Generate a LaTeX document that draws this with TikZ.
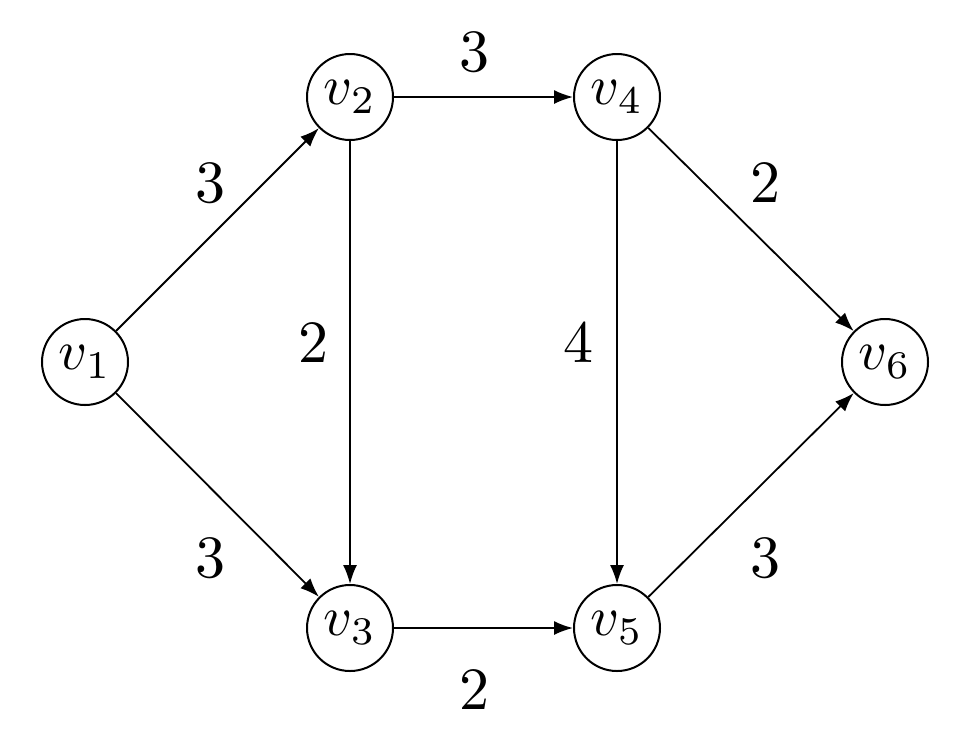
\documentclass[tikz,border=0pt]{standalone}
\usepackage{graphicx}
\usetikzlibrary{arrows.meta}
\newcommand{\vlab}[1]{\scalebox{5.6}{$#1$}}
\newcommand{\wlab}[1]{\scalebox{6.0}{$#1$}}
\begin{document}
\begin{tikzpicture}[x=1pt,y=-1pt,
  vert/.style={circle,draw,line width=2pt,minimum size=86pt,inner sep=0pt},
  wt/.style={inner sep=0pt},
  edge/.style={line width=1.8pt,-{Latex[length=19pt,width=14pt]}}]
\useasboundingbox[fill=white] (0,0) rectangle (968,740);
\node[vert] (v1) at (85,362) {\vlab{v_1}};
\node[vert] (v2) at (350,97) {\vlab{v_2}};
\node[vert] (v3) at (350,628) {\vlab{v_3}};
\node[vert] (v4) at (617,97) {\vlab{v_4}};
\node[vert] (v5) at (617,628) {\vlab{v_5}};
\node[vert] (v6) at (885,362) {\vlab{v_6}};
\draw[edge] (v1) -- (v2);
\draw[edge] (v1) -- (v3);
\draw[edge] (v2) -- (v4);
\draw[edge] (v2) -- (v3);
\draw[edge] (v3) -- (v5);
\draw[edge] (v4) -- (v5);
\draw[edge] (v4) -- (v6);
\draw[edge] (v5) -- (v6);
\node[wt] (w12) at (210,183) {\wlab{3}};
\node[wt] (w13) at (210,558) {\wlab{3}};
\node[wt] (w24) at (474,52) {\wlab{3}};
\node[wt] (w23) at (313,343) {\wlab{2}};
\node[wt] (w35) at (474,690) {\wlab{2}};
\node[wt] (w45) at (578,343) {\wlab{4}};
\node[wt] (w46) at (765,183) {\wlab{2}};
\node[wt] (w56) at (765,558) {\wlab{3}};
\end{tikzpicture}
\end{document}
